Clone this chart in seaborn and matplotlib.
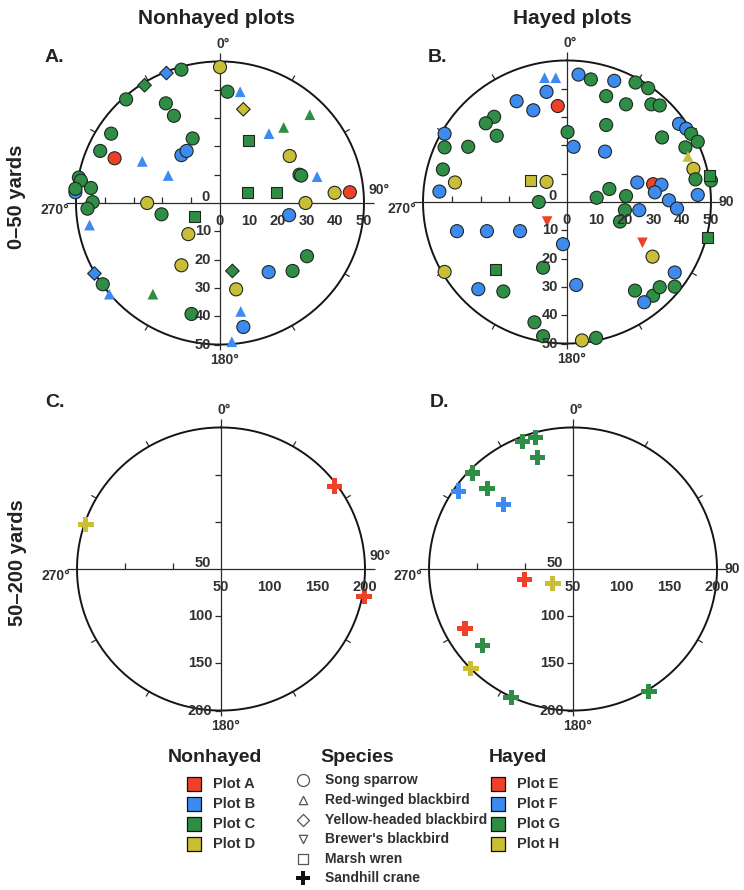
import numpy as np
import pandas as pd
import matplotlib
matplotlib.use("Agg")
import matplotlib.pyplot as plt
import seaborn as sns

# positions of each bird relative to the observer: x = yards east, y = yards north
# panel A: nonhayed plots, 0-50 yd
a_plot = ['D', 'B', 'C', 'C', 'C', 'C', 'B', 'D', 'C', 'C', 'B', 'C', 'C', 'C', 'C',
          'C', 'A', 'B', 'C', 'B', 'B', 'D', 'C', 'C', 'B', 'B', 'B', 'C', 'C', 'C',
          'C', 'C', 'C', 'C', 'C', 'D', 'A', 'D', 'D', 'C', 'C', 'B', 'B', 'D', 'D',
          'C', 'C', 'B', 'C', 'D', 'B', 'C', 'B', 'C', 'C', 'B', 'B', 'B']
a_species = ['SOSP', 'YHBL', 'SOSP', 'YHBL', 'SOSP', 'SOSP', 'RWBL', 'YHBL', 'RWBL', 'RWBL',
             'RWBL', 'MAWR', 'SOSP', 'SOSP', 'SOSP', 'SOSP', 'SOSP', 'RWBL', 'SOSP', 'SOSP',
             'SOSP', 'SOSP', 'SOSP', 'SOSP', 'RWBL', 'RWBL', 'SOSP', 'SOSP', 'SOSP', 'SOSP',
             'SOSP', 'SOSP', 'SOSP', 'MAWR', 'MAWR', 'SOSP', 'SOSP', 'SOSP', 'SOSP', 'SOSP',
             'MAWR', 'SOSP', 'RWBL', 'SOSP', 'SOSP', 'SOSP', 'SOSP', 'SOSP', 'YHBL', 'SOSP',
             'YHBL', 'SOSP', 'RWBL', 'RWBL', 'SOSP', 'RWBL', 'SOSP', 'RWBL']
a_x = [0, -18.6, -13.4, -26.2, -32.6, 2.6, 7.0, 8.1, 31.2, 22.1, 17.0, 10.0, -18.8, -16.0,
       -37.8, -41.6, -36.6, -27.0, -9.5, -13.4, -11.6, 24.2, 27.6, 28.2, 33.7, -18.0, -50.2,
       -49.0, -48.3, -50.2, -44.8, -44.2, -46.0, 9.5, 19.5, 39.8, 45.1, 29.7, -25.3, -20.3,
       -8.7, 24.0, -45.3, -11.0, -13.4, 30.2, 25.2, 16.9, 4.3, 5.6, -43.6, -40.7, -38.4,
       -23.3, -9.9, 7.2, 8.1, 4.1]
a_y = [48, 45.9, 47.1, 41.6, 36.6, 39.3, 39.3, 33.1, 31.2, 26.7, 24.5, 22.2, 35.2, 30.8,
       24.5, 18.4, 15.8, 14.7, 22.8, 16.9, 18.4, 16.6, 10.0, 9.7, 9.3, 9.7, 3.8,
       9.0, 7.9, 5.0, 5.3, 0.3, -2.0, 3.8, 3.8, 3.6, 3.8, 0.0, 0.0, -4.0,
       -4.9, -4.3, -7.8, -11.0, -22.0, -18.8, -24.0, -24.4, -24.0, -30.5, -24.9, -28.7, -32.2,
       -32.2, -39.2, -38.3, -43.8, -49.0]

# panel B: hayed plots, 0-50 yd
b_plot = ['F', 'F', 'F', 'G', 'F', 'G', 'G', 'F', 'E', 'F', 'F', 'G', 'G', 'G', 'G', 'G',
          'G', 'G', 'F', 'G', 'G', 'F', 'F', 'G', 'G', 'G', 'G', 'G', 'G', 'F', 'F', 'H',
          'H', 'G', 'H', 'H', 'H', 'F', 'G', 'G', 'G', 'F', 'E', 'F', 'F', 'G', 'G', 'G',
          'F', 'F', 'F', 'F', 'G', 'G', 'G', 'E', 'F', 'F', 'F', 'F', 'E', 'H', 'G', 'H',
          'G', 'G', 'F', 'G', 'F', 'F', 'G', 'G', 'G', 'G', 'F', 'G', 'G', 'H', 'G']
b_species = ['RWBL', 'RWBL'] + ['SOSP'] * 29 + ['RWBL', 'SOSP', 'SOSP', 'SOSP', 'MAWR',
             'SOSP', 'SOSP', 'SOSP', 'SOSP', 'MAWR'] + ['SOSP'] * 14 + ['BRBL'] + \
            ['SOSP'] * 4 + ['BRBL', 'SOSP', 'MAWR', 'SOSP', 'MAWR'] + ['SOSP'] * 14
b_x = [-7.8, -3.9, 4.0, 8.3, 16.4, 23.8, 28.2, -7.1, -3.2, -17.5, -11.7, 13.6, 20.5, 29.3,
       32.2, -25.3, -28.2, 13.6, -42.5, -24.4, 0.2, 38.9, 41.4, 43.1, 45.4, 33.0, 41.1,
       -42.5, -34.3, 2.3, 13.2, 42.0, 43.9, -43.1, -38.9, -12.6, -7.1, -44.3, 44.6, 50.0,
       49.4, 24.4, 29.9, 32.8, 30.5, 14.7, 10.3, 20.5, 35.4, 45.4, 38.2, 25.1, 20.1, 18.4,
       -9.8, -6.9, -38.2, -27.8, -16.3, -1.4, 26.2, 29.7, 48.9, -42.5, -24.7, -8.3, -30.8,
       -22.1, 3.2, 37.4, 37.4, 23.6, 29.9, 32.2, 26.8, -11.3, -8.3, 5.2, 10.1]
b_y = [43.9, 43.9, 45.0, 43.3, 42.8, 42.2, 40.2, 38.9, 33.9, 35.6, 32.4, 37.4, 34.5, 34.5,
       34.1, 30.1, 27.8, 27.2, 24.1, 23.4, 24.7, 27.6, 25.9, 24.1, 21.3, 22.8, 19.3,
       19.3, 19.5, 19.5, 17.8, 16.1, 11.7, 11.5, 6.9, 7.5, 7.1, 3.7, 8.0, 7.6,
       9.2, 6.9, 6.3, 6.1, 3.4, 4.6, 1.5, 2.1, 0.6, 2.5, -2.3, -2.9, -2.9, -6.9,
       0.0, -6.9, -10.3, -10.3, -10.3, -14.9, -14.4, -19.3, -12.4, -24.7, -23.9, -23.2, -30.8,
       -31.6, -29.3, -24.9, -29.9, -31.3, -33.1, -30.1, -35.4, -42.5, -47.4, -48.9, -48.0]

# panels C and D: 50-200 yd, chart units (0 at centre = 50 yd, 150 at rim = 200 yd)
c_plot = ['A', 'A', 'D']
c_x = [117.9, 149.0, -140.7]
c_y = [87.9, -29.3, 47.2]

d_plot = ['G', 'G', 'G', 'G', 'F', 'G', 'F', 'E', 'H', 'E', 'G', 'H', 'G', 'G']
d_x = [-52.3, -39.0, -37.3, -104.5, -119.5, -89.5, -72.1, -50.5, -20.9, -112.5, -94.0,
       -106.3, -64.5, 79.1]
d_y = [134.8, 139.0, 118.1, 101.7, 82.6, 85.4, 68.6, -10.8, -15.7, -63.0, -81.2,
       -105.6, -136.2, -130.0]

species_names = {'SOSP': 'Song sparrow', 'RWBL': 'Red-winged blackbird',
                 'YHBL': 'Yellow-headed blackbird', 'BRBL': "Brewer's blackbird",
                 'MAWR': 'Marsh wren', 'SACR': 'Sandhill crane'}

RED, BLUE, GREEN, YELLOW = '#EF4128', '#3D8BF0', '#2F8E45', '#C9BE35'
plot_colors = {'A': RED, 'B': BLUE, 'C': GREEN, 'D': YELLOW,
               'E': RED, 'F': BLUE, 'G': GREEN, 'H': YELLOW}
EDGE = '#1f271f'
marker_style = {
    'SOSP': dict(marker='o', s=88, ec=EDGE, lw=0.8),
    'MAWR': dict(marker='s', s=62, ec=EDGE, lw=0.8),
    'YHBL': dict(marker='D', s=48, ec=EDGE, lw=0.8),
    'RWBL': dict(marker='^', s=60, ec='none', lw=0),
    'BRBL': dict(marker='v', s=58, ec='none', lw=0),
    'SACR': dict(marker='P', s=120, ec='none', lw=0),
}

sns.set_style("white")
plt.rcParams['font.family'] = ['Liberation Sans', 'DejaVu Sans']
TXT = '#303030'

W, H = 744, 890
fig = plt.figure(figsize=(W / 100, H / 100), dpi=100)


def panel_axes(cx, cy, rd, half=170, squash=0.983):
    hx, hy = half, half * squash
    ax = fig.add_axes([(cx - hx) / W, (H - cy - hy) / H, 2 * hx / W, 2 * hy / H])
    ax.axis('off')
    return ax


def draw_frame(ax, rd, step, labels, right_col):
    lc = dict(color='#2a2a2a', lw=0.9, solid_capstyle='butt', zorder=1)
    t = np.linspace(0, 2 * np.pi, 400)
    ax.plot(rd * np.sin(t), rd * np.cos(t), color='#151515', lw=1.4, zorder=1)
    ax.plot([-1.07 * rd, 1.07 * rd], [0, 0], **lc)
    ax.plot([0, 0], [-1.04 * rd, 1.06 * rd], **lc)
    for ang in [30, 60, 120, 150, 210, 240, 300, 330]:
        a = np.deg2rad(ang)
        ax.plot([rd * np.sin(a), 1.04 * rd * np.sin(a)],
                [rd * np.cos(a), 1.04 * rd * np.cos(a)], **lc)
    n = len(labels) - 1
    tl = 0.04 * rd
    for k in range(1, n):
        ax.plot([-tl, 0], [k * step, k * step], **lc)
        ax.plot([-k * step, -k * step], [0, tl], **lc)
    for k in range(1, n + 1):
        ax.plot([-tl, 0], [-k * step, -k * step], **lc)
    fk = dict(fontsize=10.5, fontweight='bold', color=TXT)
    for k, lab in enumerate(labels):
        ax.text(k * step, -0.13 * rd, lab, ha='center', va='center', **fk)
        if k == 0:
            ax.text(-0.07 * rd, 0.04 * rd, lab, ha='right', va='center', **fk)
        else:
            ax.text(-0.06 * rd, -k * step, lab, ha='right', va='center', **fk)
    fd = dict(fontsize=10, fontweight='bold', color=TXT)
    ax.text(0.02 * rd, 1.12 * rd, '0°', ha='center', va='center', **fd)
    ax.text(0.03 * rd, -1.11 * rd, '180°', ha='center', va='center', **fd)
    if right_col:
        ax.text(1.05 * rd, 0.0, '90', ha='left', va='center', **fd)
    else:
        ax.text(1.03 * rd, 0.09 * rd, '90°', ha='left', va='center', **fd)
    ax.text(-1.05 * rd, -0.05 * rd, '270°', ha='right', va='center', **fd)
    lim = rd * 170 / 144
    ax.set_xlim(-lim, lim)
    ax.set_ylim(-lim, lim)


def draw_points(ax, df):
    for code in ['SOSP', 'MAWR', 'YHBL', 'RWBL', 'BRBL', 'SACR']:
        sub = df[df['species'] == code]
        if sub.empty:
            continue
        st = marker_style[code]
        sns.scatterplot(data=sub, x='x', y='y', hue='plot', palette=plot_colors,
                        marker=st['marker'], s=st['s'], edgecolor=st['ec'],
                        linewidth=st['lw'], legend=False, ax=ax, zorder=3,
                        clip_on=False)


panels = [
    (pd.DataFrame({'plot': a_plot, 'species': a_species, 'x': a_x, 'y': a_y}),
     (220, 203), 50, 10, ['0', '10', '20', '30', '40', '50'], False),
    (pd.DataFrame({'plot': b_plot, 'species': b_species, 'x': b_x, 'y': b_y}),
     (567, 202), 50, 10, ['0', '10', '20', '30', '40', '50'], True),
    (pd.DataFrame({'plot': c_plot, 'species': 'SACR', 'x': c_x, 'y': c_y}),
     (221, 569), 150, 50, ['50', '100', '150', '200'], False),
    (pd.DataFrame({'plot': d_plot, 'species': 'SACR', 'x': d_x, 'y': d_y}),
     (573, 569), 150, 50, ['50', '100', '150', '200'], True),
]
for df, (cx, cy), rd, step, labels, right_col in panels:
    ax = panel_axes(cx, cy, rd)
    draw_points(ax, df)
    draw_frame(ax, rd, step, labels, right_col)

# headings
def ftext(x, y, s, **kw):
    fig.text(x / W, 1 - y / H, s, **kw)

bold = dict(fontweight='bold', color='#222222')
ftext(217, 18, 'Nonhayed plots', ha='center', va='center', fontsize=15, **bold)
ftext(572, 18, 'Hayed plots', ha='center', va='center', fontsize=15, **bold)
ftext(17, 197, '0–50 yards', ha='center', va='center', rotation=90, fontsize=14.5, **bold)
ftext(18, 563, '50–200 yards', ha='center', va='center', rotation=90, fontsize=14.5, **bold)
for lab, x, y in [('A.', 45, 57), ('B.', 428, 57), ('C.', 45, 402), ('D.', 430, 402)]:
    ftext(x, y, lab, ha='left', va='center', fontsize=14, **bold)

# legend
lg = fig.add_axes([0, 0, 1, 1])
lg.set_xlim(0, W)
lg.set_ylim(H, 0)
lg.axis('off')
ftext(215, 758, 'Nonhayed', ha='center', va='center', fontsize=14, **bold)
ftext(357, 758, 'Species', ha='center', va='center', fontsize=14, **bold)
ftext(518, 758, 'Hayed', ha='center', va='center', fontsize=14, **bold)
rows = [784, 804, 824, 844]
for i, y in enumerate(rows):
    for xm, xt, letter in [(194, 213, 'ABCD'[i]), (498, 517, 'EFGH'[i])]:
        lg.scatter([xm], [y], marker='s', s=110, color=plot_colors[letter],
                   edgecolor='#111111', linewidth=0.9)
        ftext(xt, y, 'Plot ' + letter, ha='left', va='center', fontsize=10.5,
              fontweight='bold', color=TXT)
srows = [780, 800, 820, 839, 859, 878]
smk = [('SOSP', 'o', 75), ('RWBL', '^', 36), ('YHBL', 'D', 38), ('BRBL', 'v', 36),
       ('MAWR', 's', 50), ('SACR', 'P', 110)]
for y, (code, mk, s) in zip(srows, smk):
    if code == 'SACR':
        lg.scatter([303], [y], marker=mk, s=s, color='#111111', linewidth=0)
    else:
        lg.scatter([303], [y], marker=mk, s=s, facecolor='white', edgecolor='#555555',
                   linewidth=0.9)
    ftext(325, y, species_names[code], ha='left', va='center', fontsize=10,
          fontweight='bold', color=TXT)

fig.savefig('out.png', dpi=100)
